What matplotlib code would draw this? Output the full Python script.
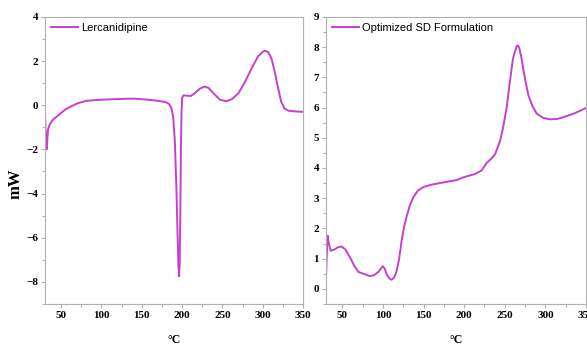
import matplotlib.pyplot as plt
from matplotlib.ticker import MultipleLocator

# Lercanidipine DSC trace (temperature in degC, heat flow in mW)
lerc_t = [30, 31, 32, 33.7, 36, 40, 45, 50, 55, 63, 70, 81, 100, 120, 139, 155, 170,
          180, 184, 187, 189, 191, 193, 194.5, 195.5, 196.3, 197, 197.8, 198.5, 199.3,
          200.2, 202, 206, 211, 216, 222, 228, 233, 240, 247, 255, 262, 270, 278,
          286, 294, 300, 303, 307, 311, 315, 319, 323, 327, 332, 340, 350]
lerc_y = [-0.4, -1.4, -2.0, -1.1, -0.85, -0.65, -0.5, -0.35, -0.2, -0.04, 0.08, 0.2,
          0.25, 0.28, 0.3, 0.26, 0.2, 0.14, 0.05, -0.15, -0.55, -1.6, -3.8, -6.0,
          -7.3, -7.75, -7.2, -5.0, -2.2, -0.3, 0.35, 0.45, 0.43, 0.42, 0.55, 0.75,
          0.85, 0.78, 0.5, 0.25, 0.18, 0.28, 0.55, 1.05, 1.65, 2.2, 2.42, 2.47, 2.4,
          2.1, 1.5, 0.8, 0.15, -0.15, -0.25, -0.28, -0.3]

# Optimized SD Formulation DSC trace
sd_t = [30, 31, 32, 33.5, 35.7, 40, 45, 49.3, 54, 59.5, 65, 69.8, 73.9, 78, 84, 89,
        94.4, 99.8, 102, 104.7, 108, 110.8, 114, 117, 120, 123.1, 126, 129.3, 133,
        137.4, 143, 149.8, 160, 170.3, 180, 190.8, 200, 213.4, 221.6, 227.8, 233,
        238, 244.2, 248, 252.4, 256, 259.8, 261, 262.5, 264.7, 266.5, 268, 270.5,
        272.9, 276, 279, 284, 289.3, 297, 305.7, 314, 322, 335, 348.8, 350]
sd_y = [0.4, 1.2, 1.76, 1.5, 1.26, 1.3, 1.38, 1.4, 1.3, 1.04, 0.75, 0.56, 0.52, 0.48,
        0.42, 0.45, 0.56, 0.75, 0.68, 0.48, 0.34, 0.3, 0.38, 0.6, 1.0, 1.6, 2.05,
        2.4, 2.75, 3.03, 3.25, 3.37, 3.45, 3.5, 3.55, 3.6, 3.7, 3.8, 3.92, 4.17,
        4.3, 4.45, 4.9, 5.35, 6.02, 6.8, 7.57, 7.72, 7.85, 8.04, 8.05, 7.95, 7.65,
        7.24, 6.8, 6.41, 6.05, 5.8, 5.66, 5.61, 5.62, 5.68, 5.8, 5.97, 5.99]

line_color = "#c63fcf"
spine_color = "#b0b0b0"

fig = plt.figure(figsize=(5.87, 3.45), dpi=100)
ax1 = fig.add_axes([0.0767, 0.119, 0.4395, 0.832])
ax2 = fig.add_axes([0.5554, 0.119, 0.443, 0.832])

panels = [
    (ax1, lerc_t, lerc_y, "Lercanidipine", (-9, 4), 2, 1),
    (ax2, sd_t, sd_y, "Optimized SD Formulation", (-0.5, 9), 1, 0.5),
]
for ax, t, y, name, ylim, ymaj, ymin in panels:
    ax.plot(t, y, color=line_color, lw=1.4, label=name)
    ax.set_xlim(30, 350)
    ax.set_ylim(*ylim)
    ax.xaxis.set_major_locator(MultipleLocator(50))
    ax.xaxis.set_minor_locator(MultipleLocator(25))
    ax.yaxis.set_major_locator(MultipleLocator(ymaj))
    ax.yaxis.set_minor_locator(MultipleLocator(ymin))
    for s in ax.spines.values():
        s.set_color(spine_color)
        s.set_linewidth(0.8)
    ax.tick_params(which="both", direction="out", color=spine_color, width=0.8)
    ax.tick_params(which="major", length=3, labelsize=8, pad=2)
    ax.tick_params(which="minor", length=2)
    for lab in ax.get_xticklabels() + ax.get_yticklabels():
        lab.set_fontfamily("Liberation Serif")
        lab.set_fontweight("bold")
    ax.set_xlabel("°C", fontfamily="Liberation Serif", fontweight="bold",
                  fontsize=8.5, labelpad=10)
    ax.legend(loc="upper left", frameon=False, handlelength=2.4,
              handletextpad=0.3, borderaxespad=0.15,
              prop={"family": "Liberation Sans", "size": 8})

ax1.set_ylabel("mW", fontfamily="Liberation Serif", fontweight="bold", fontsize=12)
ax1.yaxis.set_label_coords(-0.085, 0.42)

fig.savefig("out.png", dpi=100)
